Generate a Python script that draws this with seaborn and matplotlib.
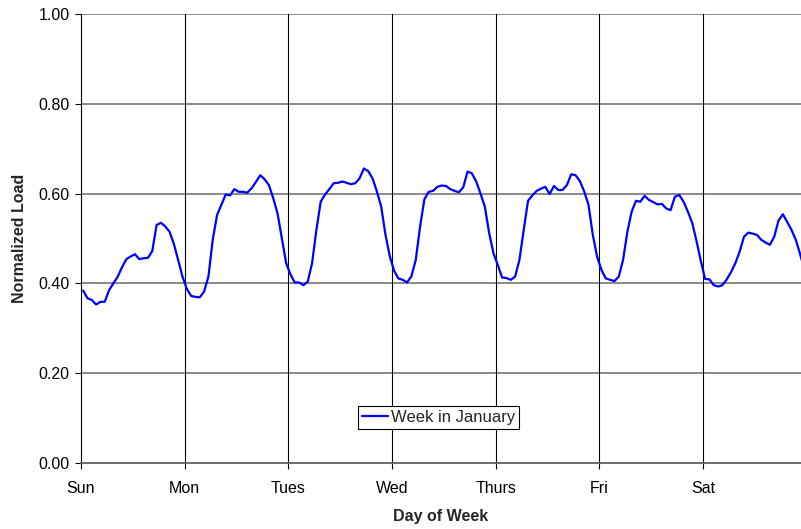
import numpy as np
import pandas as pd
import matplotlib
matplotlib.use("Agg")
import matplotlib.pyplot as plt
import seaborn as sns

day_labels = ["Sun", "Mon", "Tues", "Wed", "Thurs", "Fri", "Sat"]
series_name = "Week in January"

sun = [0.384, 0.367, 0.363, 0.353, 0.359, 0.359, 0.385, 0.400, 0.415, 0.436, 0.454, 0.460,
       0.465, 0.454, 0.456, 0.457, 0.472, 0.530, 0.535, 0.527, 0.515, 0.488, 0.452, 0.415]
mon = [0.388, 0.372, 0.370, 0.369, 0.382, 0.415, 0.497, 0.552, 0.575, 0.598, 0.596, 0.610,
       0.604, 0.604, 0.602, 0.612, 0.626, 0.641, 0.632, 0.619, 0.590, 0.556, 0.500, 0.445]
tue = [0.420, 0.402, 0.402, 0.396, 0.404, 0.445, 0.519, 0.582, 0.598, 0.610, 0.623, 0.624,
       0.627, 0.624, 0.621, 0.623, 0.634, 0.656, 0.650, 0.634, 0.605, 0.571, 0.508, 0.460]
wed = [0.428, 0.411, 0.408, 0.402, 0.416, 0.452, 0.526, 0.587, 0.604, 0.606, 0.615, 0.618,
       0.617, 0.610, 0.606, 0.603, 0.614, 0.649, 0.645, 0.627, 0.600, 0.571, 0.512, 0.467]
thu = [0.441, 0.413, 0.412, 0.408, 0.415, 0.452, 0.519, 0.584, 0.596, 0.606, 0.611, 0.615,
       0.599, 0.617, 0.608, 0.608, 0.619, 0.643, 0.641, 0.628, 0.605, 0.575, 0.508, 0.459]
fri = [0.430, 0.411, 0.408, 0.405, 0.415, 0.452, 0.515, 0.560, 0.584, 0.582, 0.595, 0.586,
       0.581, 0.576, 0.577, 0.567, 0.563, 0.593, 0.597, 0.582, 0.560, 0.535, 0.495, 0.450]
sat = [0.410, 0.409, 0.396, 0.393, 0.396, 0.409, 0.425, 0.445, 0.471, 0.504, 0.513, 0.511,
       0.508, 0.497, 0.491, 0.486, 0.504, 0.540, 0.554, 0.537, 0.519, 0.497, 0.465, 0.430]

load = sun + mon + tue + wed + thu + fri + sat
hours = np.arange(len(load))

df = pd.DataFrame({"hour": hours + 0.5, "load": load, "series": series_name})

sns.set_style("white")
plt.rcParams["font.family"] = ["Liberation Sans", "DejaVu Sans"]

fig = plt.figure(figsize=(8.01, 5.29), dpi=100)
ax = fig.add_axes([81 / 801, 1 - 463 / 529, 720 / 801, 449 / 529])

sns.lineplot(data=df, x="hour", y="load", hue="series", palette=["#0000FF"],
             linewidth=1.6, ax=ax, zorder=3)

ax.set_xlim(0, 166.7)
ax.set_ylim(0, 1.0)
ax.set_xticks(np.arange(0, 7) * 24)
ax.set_xticklabels(day_labels, fontsize=11.5)
ax.set_yticks(np.arange(0, 1.01, 0.2))
ax.set_yticklabels([f"{v:.2f}" for v in np.arange(0, 1.01, 0.2)], fontsize=11.5)

for y in np.arange(0.2, 1.01, 0.2):
    ax.axhline(y, color="#808080", linewidth=1.3, zorder=1)
for x in np.arange(1, 7) * 24:
    ax.axvline(x, color="black", linewidth=0.8, zorder=1)

for s in ["top", "right"]:
    ax.spines[s].set_visible(False)
ax.spines["left"].set_color("black")
ax.spines["left"].set_linewidth(0.8)
ax.spines["bottom"].set_color("#606060")
ax.spines["bottom"].set_linewidth(1.3)

ax.tick_params(axis="both", which="major", direction="out", length=4.3, width=0.8,
               color="black", labelcolor="black", bottom=True, left=True)
ax.tick_params(axis="x", pad=9)
ax.tick_params(axis="y", pad=4)

ax.set_xlabel("Day of Week", fontsize=11.5, fontweight="bold", labelpad=9)
ax.set_ylabel("Normalized Load", fontsize=11.5, fontweight="bold", labelpad=8)

leg = ax.legend(loc="center", bbox_to_anchor=(0.4965, 0.1014), frameon=True, fancybox=False,
                fontsize=12, handlelength=1.55, borderpad=0.22, handletextpad=0.2,
                framealpha=1, edgecolor="black", borderaxespad=0)
leg.get_frame().set_linewidth(0.8)
for line in leg.get_lines():
    line.set_linewidth(1.6)

fig.savefig("out.png", dpi=100)
